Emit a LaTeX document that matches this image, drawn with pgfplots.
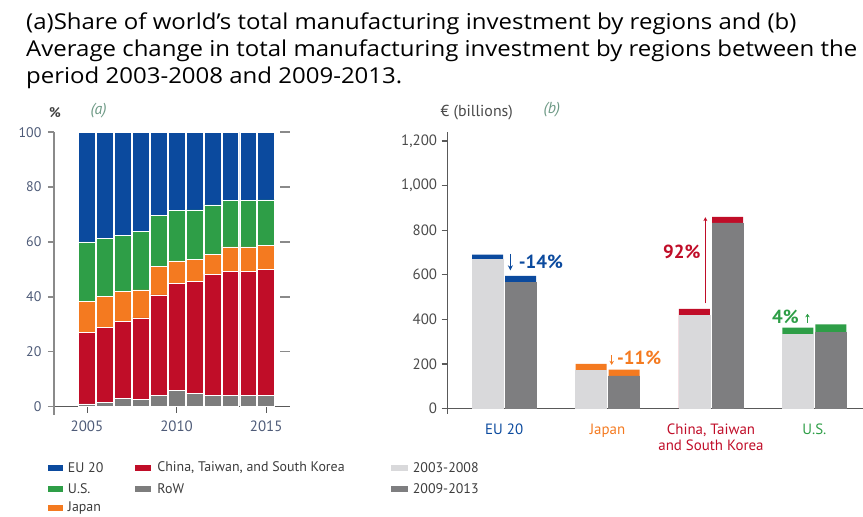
\documentclass[border=0pt]{standalone}
\usepackage{fontspec}
\setmainfont{Open Sans}
\newfontfamily\cf{PT Sans}
\usepackage{graphicx}
\usepackage{pgfplots}
\usepackage{pgfplotstable}
\pgfplotsset{compat=1.18}
\usetikzlibrary{arrows.meta}
\definecolor{cEU}{HTML}{0B4A9E}
\definecolor{cUS}{HTML}{2E9E47}
\definecolor{cJP}{HTML}{F47A20}
\definecolor{cCH}{HTML}{C00D28}
\definecolor{cRW}{HTML}{7D7D7D}
\definecolor{cL}{HTML}{D9D9DB}
\definecolor{cD}{HTML}{7E7E80}
\definecolor{labA}{HTML}{4E5B78}
\definecolor{labB}{HTML}{4A4A4A}
\definecolor{cItal}{HTML}{6E9A86}
\definecolor{legt}{HTML}{3C3C3C}
\definecolor{axg}{HTML}{8A8A8A}

% t = year - 2000
\pgfplotstableread{
t RoW China Japan US EU
5  1   26.1 11.2 21.7 40
6  1.5 27.4 11.2 21.3 38.6
7  3   28.1 10.8 20.5 37.6
8  2.5 29.8 10.2 21.4 36.1
9  4   36.7 10.3 18.6 30.4
10 6   38.9 8.2  18.3 28.6
11 4.8 40.7 8.1  18.1 28.3
12 4.2 44   7.2  18.1 26.5
13 4   45.4 8.8  16.9 24.9
14 4   45.4 8.8  16.9 24.9
15 4   46   8.6  16.7 24.7
}\sharedata

\pgfplotstableread{
x grey total
-0.16 667 690
0.16 566 595
}\eudata
\pgfplotstableread{
x grey total
0.84 171 200
1.16 146 175
}\jpdata
\pgfplotstableread{
x grey total
1.84 416 447
2.16 832 859
}\chdata
\pgfplotstableread{
x grey total
2.84 331 363
3.16 343 377
}\usdata

\newcommand\titlefont{\fontsize{22bp}{27bp}\selectfont}
\newlength\tlw

\begin{document}
\settowidth\tlw{\titlefont Average change in total manufacturing investment by regions between the}
\pgfmathsetmacro\tfac{839.135/\tlw}
\begin{tikzpicture}
\path[use as bounding box] (0,0) rectangle (863bp,-520bp);
% title
\node[anchor=base west, inner sep=0, font=\titlefont] at (21bp,-30bp) {\scalebox{\tfac}[1]{(a)Share of world's total manufacturing investment by regions and (b)}};
\node[anchor=base west, inner sep=0, font=\titlefont] at (21bp,-57bp) {\scalebox{\tfac}[1]{Average change in total manufacturing investment by regions between the}};
\node[anchor=base west, inner sep=0, font=\titlefont] at (21bp,-84bp) {\scalebox{\tfac}[1]{period 2003-2008 and 2009-2013.}};

% left chart
\begin{axis}[at={(49bp,-409bp)}, anchor=south west, scale only axis,
  width=228bp, height=276bp,
  xmin=3.15, xmax=15.8, ymin=0, ymax=100,
  ybar stacked, bar width=0.94,
  axis x line=bottom, axis y line=left, axis line style={-},
  x axis line style={draw=black!65, line width=1.2bp},
  y axis line style={draw=axg, line width=1.5bp},
  ytick={0,20,40,60,80,100}, xtick={5,10,15},
  xticklabels={2005,2010,2015},
  tick align=outside, major tick length=6bp,
  ytick style={draw=axg, line width=1.5bp},
  xtick style={draw=black!65, line width=1bp},
  /pgf/number format/assume math mode=true,
  yticklabel style={font=\cf\fontsize{14bp}{14bp}\selectfont, text=labA, xshift=-3bp},
  xticklabel style={font=\cf\fontsize{15bp}{15bp}\selectfont, text=labA, yshift=-5bp},
  clip=false,
  every axis plot/.append style={draw=white, line width=0.6bp},
]
\addplot[fill=cRW] table[x=t,y=RoW]{\sharedata};
\addplot[fill=cCH] table[x=t,y=China]{\sharedata};
\addplot[fill=cJP] table[x=t,y=Japan]{\sharedata};
\addplot[fill=cUS] table[x=t,y=US]{\sharedata};
\addplot[fill=cEU] table[x=t,y=EU]{\sharedata};
\draw[black!65, line width=1.2bp] (axis cs:15.8,0) -- (axis cs:16.35,0);
\draw[axg, line width=1.5bp] (axis cs:15.8,20) -- (axis cs:16.35,20);
\draw[axg, line width=1.5bp] (axis cs:15.8,40) -- (axis cs:16.35,40);
\draw[axg, line width=1.5bp] (axis cs:15.8,60) -- (axis cs:16.35,60);
\draw[axg, line width=1.5bp] (axis cs:15.8,80) -- (axis cs:16.35,80);
\draw[axg, line width=1.5bp] (axis cs:15.8,100) -- (axis cs:16.35,100);
\draw[axg, line width=1.5bp] (axis cs:3.15,0) -- (axis cs:3.15,-2.9);
\end{axis}
\node[anchor=center, font=\cf\bfseries\fontsize{14bp}{14bp}\selectfont, text=black!75] at (50bp,-113bp) {\%};
\node[anchor=center, font=\cf\itshape\fontsize{16bp}{16bp}\selectfont, text=cItal] at (94bp,-111bp) {(a)};

% right chart
\begin{axis}[at={(445bp,-411bp)}, anchor=south west, scale only axis,
  width=418bp, height=278bp,
  xmin=-0.548, xmax=3.47, ymin=0, ymax=1239,
  axis x line=bottom, axis y line=left, axis line style={-},
  x axis line style={draw=black!65, line width=1.2bp},
  y axis line style={draw=black!65, line width=1.3bp},
  ytick={0,200,400,600,800,1000,1200},
  xtick={0,1,2,3},
  xticklabels={\color{cEU}EU 20, \color{cJP}Japan, {\color{cCH}China, Taiwan\\\color{cCH}and South Korea}, \color{cUS}U.S.},
  tick align=outside, major tick length=6bp,
  ytick style={draw=black!65, line width=1.2bp},
  xtick style={draw=none},
  /pgf/number format/assume math mode=true,
  /pgf/number format/1000 sep={,},
  yticklabel style={font=\cf\fontsize{15bp}{15bp}\selectfont, text=labB, xshift=-1bp},
  xticklabel style={font=\cf\fontsize{15bp}{16bp}\selectfont, align=center, yshift=-6bp, anchor=north},
  clip=false,
  ybar, bar width=0.3,
]
\addplot[fill=cEU, draw=none, bar shift=0pt] table[x=x,y=total]{\eudata};
\addplot[fill=cJP, draw=none, bar shift=0pt] table[x=x,y=total]{\jpdata};
\addplot[fill=cCH, draw=none, bar shift=0pt] table[x=x,y=total]{\chdata};
\addplot[fill=cUS, draw=none, bar shift=0pt] table[x=x,y=total]{\usdata};
\addplot[fill=cL, draw=cL, line width=0.8bp, bar shift=0pt] coordinates {(-0.16,667) (0.84,171) (1.84,416) (2.84,331)};
\addplot[fill=cD, draw=cD, line width=0.8bp, bar shift=0pt] coordinates {(0.16,566) (1.16,146) (2.16,832) (3.16,343)};
% annotations
\draw[cEU, line width=1.6bp, -{Stealth[length=5bp,width=5bp]}] (axis cs:0.06,693) -- (axis cs:0.06,620);
\node[anchor=west, inner sep=0, font=\cf\bfseries\fontsize{19bp}{19bp}\selectfont, text=cEU] at (axis cs:0.14,656) {-14\%};
\draw[cJP, line width=1.4bp, -{Stealth[length=4bp,width=4.5bp]}] (axis cs:1.04,240) -- (axis cs:1.04,196);
\node[anchor=west, inner sep=0, font=\cf\bfseries\fontsize{19bp}{19bp}\selectfont, text=cJP] at (axis cs:1.09,227) {-11\%};
\draw[cCH, line width=1bp, -{Stealth[length=4bp,width=4bp]}] (axis cs:1.946,472) -- (axis cs:1.946,858);
\node[anchor=east, inner sep=0, font=\cf\bfseries\fontsize{19bp}{19bp}\selectfont, text=cCH] at (axis cs:1.90,703) {92\%};
\draw[cUS, line width=1.4bp, -{Stealth[length=3.5bp,width=4.5bp]}] (axis cs:2.933,384) -- (axis cs:2.933,425);
\node[anchor=west, inner sep=0, font=\cf\bfseries\fontsize{19bp}{19bp}\selectfont, text=cUS] at (axis cs:2.59,413) {4\%};
\draw[black!65, line width=1.3bp] (axis cs:-0.548,0) -- (axis cs:-0.548,-25);
\end{axis}
\node[anchor=west, inner sep=0, font=\cf\fontsize{16bp}{16bp}\selectfont, text=labB] at (438bp,-113bp) {€ (billions)};
\node[anchor=center, font=\cf\itshape\fontsize{16bp}{16bp}\selectfont, text=cItal] at (550bp,-110bp) {(b)};

% legend
\fill[cEU] (43bp,-467.5bp) rectangle (58bp,-473.5bp);
\fill[cUS] (43bp,-488.5bp) rectangle (58bp,-494.5bp);
\fill[cJP] (43bp,-508.5bp) rectangle (58bp,-514.5bp);
\fill[cCH] (131bp,-467.5bp) rectangle (147bp,-473.5bp);
\fill[cRW] (131bp,-488.5bp) rectangle (147bp,-494.5bp);
\fill[cL] (388bp,-467.5bp) rectangle (405bp,-473.5bp);
\fill[cD] (388bp,-488.5bp) rectangle (405bp,-494.5bp);
\begin{scope}[every node/.style={anchor=west, inner sep=0, font=\cf\fontsize{14bp}{14bp}\selectfont, text=legt}]
\node at (63bp,-470.5bp) {EU 20};
\node at (63bp,-491.5bp) {U.S.};
\node at (63bp,-511.5bp) {Japan};
\node at (153bp,-470.5bp) {China, Taiwan, and South Korea};
\node at (153bp,-491.5bp) {RoW};
\node at (410bp,-470.5bp) {2003-2008};
\node at (410bp,-491.5bp) {2009-2013};
\end{scope}
\end{tikzpicture}
\end{document}
